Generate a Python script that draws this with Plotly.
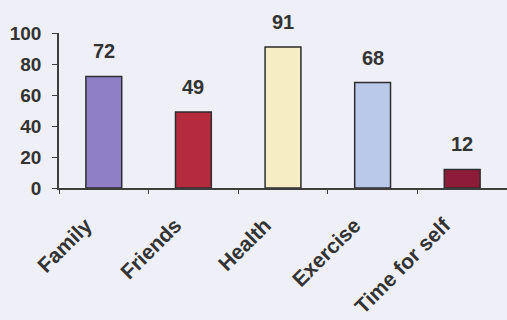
import plotly.graph_objects as go

categories = ["Family", "Friends", "Health", "Exercise", "Time for self"]
values = [72, 49, 91, 68, 12]
bar_colors = ["#8E7FC6", "#B42B3E", "#F6EDC4", "#BAC9E9", "#8E1C38"]
y_ticks = [0, 20, 40, 60, 80, 100]

FONT = "Liberation Sans, Arial, sans-serif"
INK = "#333333"

fig = go.Figure(
    go.Bar(
        x=categories,
        y=values,
        marker=dict(color=bar_colors, line=dict(color="#2E2E2E", width=1.5)),
        width=0.4,
    )
)

# value labels floating well above each bar
for cat, val in zip(categories, values):
    fig.add_annotation(
        x=cat, y=val, text=str(val), showarrow=False,
        yanchor="bottom", yshift=12,
        font=dict(family=FONT, size=20, color=INK, weight="bold"),
    )

fig.update_layout(
    width=507,
    height=320,
    margin=dict(l=59, r=0, t=33, b=132, autoexpand=False),
    paper_bgcolor="#EFEFF8",
    plot_bgcolor="#EFEFF8",
    showlegend=False,
    font=dict(family=FONT, color=INK, size=19, weight="bold"),
)

fig.update_yaxes(
    range=[0, 100],
    tickvals=y_ticks,
    showgrid=False,
    zeroline=False,
    showline=True,
    linecolor="#3E3E3E",
    linewidth=1.5,
    ticks="outside",
    ticklen=5,
    tickcolor="#3E3E3E",
    ticklabelstandoff=7,
    automargin=False,
    tickfont=dict(family=FONT, size=19, color=INK, weight="bold"),
)

fig.update_xaxes(
    showgrid=False,
    showline=True,
    linecolor="#3E3E3E",
    linewidth=1.5,
    ticks="outside",
    tickson="boundaries",
    ticklen=4,
    tickcolor="#3E3E3E",
    tickangle=-45,
    ticklabelshift=-18,
    ticklabelstandoff=15,
    automargin=False,
    tickfont=dict(family=FONT, size=21, color=INK, weight="bold"),
)

fig.write_html(
    "out.html",
    config={"displayModeBar": False},
    post_script="document.body.style.margin='0';",
)
